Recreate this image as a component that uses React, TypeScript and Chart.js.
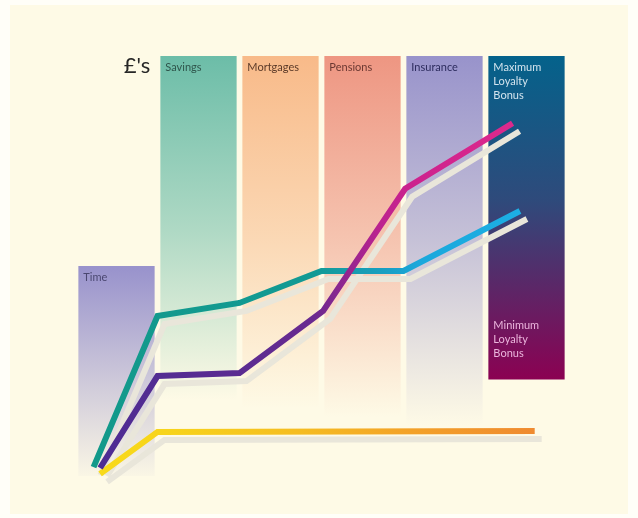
import React, { useEffect, useRef } from "react";
import { Chart, registerables } from "chart.js";

Chart.register(...registerables);

// ---- data ----
const categories = ["Time", "Savings", "Mortgages", "Pensions", "Insurance", "Loyalty Bonus"];
const columnTop = [50, 100, 100, 100, 100, 100];
const columnBottom = [0, 0, 0, 0, 0, 23];

const headerLines = [["Time"], ["Savings"], ["Mortgages"], ["Pensions"], ["Insurance"], ["Maximum", "Loyalty", "Bonus"]];
const footerLines = ["Minimum", "Loyalty", "Bonus"];
const yAxisLabel = "£'s";

// Maximum loyalty bonus path (purple -> magenta)
const maxBonusX = [-0.2, 0.5, 1.5, 2.52, 3.52, 4.83];
const maxBonusY = [1.9, 23.8, 24.5, 39.3, 68.4, 84.0];
// Minimum loyalty bonus path (teal -> cyan)
const minBonusX = [-0.28, 0.5, 1.5, 2.5, 3.5, 4.92];
const minBonusY = [2.1, 38.1, 41.2, 48.8, 48.8, 63.1];
// No bonus path (yellow -> orange)
const noBonusX = [-0.2, 0.5, 5.1];
const noBonusY = [0.5, 10.5, 10.7];

const toPoints = (xs: number[], ys: number[]) => xs.map((x, i) => ({ x, y: ys[i] }));

const columnTopColors = [
  [152, 146, 204],
  [108, 189, 168],
  [248, 186, 137],
  [238, 150, 130],
  [152, 147, 203],
];
const columnFadeTo = [0, 18, 16, 14, 12];
const headerColors = ["#4a4770", "#2f564c", "#5b3a28", "#6b3832", "#2d2c5e", "#d3e4ee"];

const panelPlugin = {
  id: "panel",
  beforeDraw(chart: any) {
    const { ctx, width, height } = chart;
    ctx.save();
    ctx.fillStyle = "#fffef8";
    ctx.fillRect(0, 0, width, height);
    ctx.fillStyle = "#fefae6";
    ctx.fillRect(10, 5, 618, 509);
    ctx.restore();
  },
};

const shadowPlugin = {
  id: "shadowShift",
  beforeDatasetDraw(chart: any, args: any) {
    if (chart.data.datasets[args.index].isShadow) {
      chart.ctx.save();
      chart.ctx.translate(7, 8);
    }
  },
  afterDatasetDraw(chart: any, args: any) {
    if (chart.data.datasets[args.index].isShadow) chart.ctx.restore();
  },
};

const labelPlugin = {
  id: "colLabels",
  afterDatasetsDraw(chart: any) {
    const ctx = chart.ctx;
    const meta = chart.getDatasetMeta(0);
    ctx.save();
    ctx.textBaseline = "middle";
    ctx.textAlign = "left";
    ctx.font = "11px Lato";
    meta.data.forEach((bar: any, i: number) => {
      const { x, y, width, base } = bar.getProps(["x", "y", "width", "base"], true);
      const left = x - width / 2 + 5;
      ctx.fillStyle = headerColors[i];
      headerLines[i].forEach((t, k) => ctx.fillText(t, left, y + 11 + k * 14));
      if (i === meta.data.length - 1) {
        ctx.fillStyle = "#ebb5dc";
        footerLines.forEach((t, k) => ctx.fillText(t, left, base - 54 + k * 14));
      }
    });
    const first = meta.data[1].getProps(["x", "y", "width"], true);
    ctx.font = "22px Lato";
    ctx.textAlign = "right";
    ctx.fillStyle = "#262626";
    ctx.fillText(yAxisLabel, first.x - first.width / 2 - 10, first.y + 10);
    ctx.restore();
  },
};

function lineGradient(chart: any, stops: [number, string][], fallback: string) {
  if (!chart.chartArea) return fallback;
  const xs = chart.scales.x;
  const x0 = xs.getPixelForValue(stops[0][0]);
  const x1 = xs.getPixelForValue(stops[stops.length - 1][0]);
  const g = chart.ctx.createLinearGradient(x0, 0, x1, 0);
  stops.forEach(([v, c]) => {
    g.addColorStop(Math.min(1, Math.max(0, (xs.getPixelForValue(v) - x0) / (x1 - x0))), c);
  });
  return g;
}

export default function App() {
  const ref = useRef<HTMLCanvasElement | null>(null);

  useEffect(() => {
    if (!ref.current) return;
    const shadowColor = "#e9e6da";
    const lineBase = {
      type: "line" as const,
      xAxisID: "x",
      yAxisID: "y",
      borderWidth: 6,
      pointRadius: 0,
      tension: 0,
      fill: false,
      borderCapStyle: "butt",
      borderJoinStyle: "miter",
      clip: false,
    };
    const chart = new Chart(ref.current, {
      type: "bar",
      data: {
        labels: categories,
        datasets: [
          {
            type: "bar",
            label: "Columns",
            xAxisID: "xc",
            yAxisID: "y",
            order: 10,
            grouped: false,
            data: categories.map((_, i) => [columnBottom[i], columnTop[i]]),
            barPercentage: 0.93,
            categoryPercentage: 1,
            borderWidth: 0,
            backgroundColor: (ctx: any) => {
              const chart = ctx.chart;
              if (!chart.chartArea) return "#ccc";
              const i = ctx.dataIndex;
              const y = chart.scales.y;
              const top = y.getPixelForValue(columnTop[i]);
              const bottom = y.getPixelForValue(columnBottom[i]);
              if (i === categories.length - 1) {
                const g = chart.ctx.createLinearGradient(0, top, 0, bottom);
                g.addColorStop(0, "#04628b");
                g.addColorStop(0.45, "#2f4a7b");
                g.addColorStop(1, "#8b0152");
                return g;
              }
              const [r, gg, b] = columnTopColors[i];
              const end = i === 0 ? bottom : y.getPixelForValue(columnFadeTo[i]);
              const g = chart.ctx.createLinearGradient(0, top, 0, end);
              g.addColorStop(0, `rgba(${r},${gg},${b},1)`);
              if (i > 0) g.addColorStop(0.5, `rgba(${r},${gg},${b},0.55)`);
              g.addColorStop(1, `rgba(${r},${gg},${b},${i === 0 ? 0.04 : 0})`);
              return g;
            },
          } as any,
          { ...lineBase, label: "shadow-min", isShadow: true, order: 6, borderColor: shadowColor, data: toPoints(minBonusX, minBonusY) } as any,
          { ...lineBase, label: "shadow-max", isShadow: true, order: 6, borderColor: shadowColor, data: toPoints(maxBonusX, maxBonusY) } as any,
          { ...lineBase, label: "shadow-none", isShadow: true, order: 6, borderColor: shadowColor, data: toPoints(noBonusX, noBonusY) } as any,
          {
            ...lineBase,
            label: "Minimum loyalty bonus",
            order: 3,
            data: toPoints(minBonusX, minBonusY),
            borderColor: (ctx: any) =>
              lineGradient(ctx.chart, [[-0.3, "#12998a"], [2.4, "#139a94"], [3.3, "#1a9fc4"], [3.7, "#1ba8dc"], [5, "#1cafe4"]], "#12998a"),
          } as any,
          {
            ...lineBase,
            label: "No bonus",
            order: 2,
            data: toPoints(noBonusX, noBonusY),
            borderColor: (ctx: any) =>
              lineGradient(ctx.chart, [[-0.2, "#f8da1a"], [0.6, "#f7d41b"], [2.2, "#f5bd21"], [3.6, "#f3a128"], [5.1, "#ef8a30"]], "#f6d51c"),
          } as any,
          {
            ...lineBase,
            label: "Maximum loyalty bonus",
            order: 1,
            data: toPoints(maxBonusX, maxBonusY),
            borderColor: (ctx: any) =>
              lineGradient(ctx.chart, [[-0.2, "#4d2c93"], [1.5, "#5b2c91"], [2.4, "#6a2a90"], [3.2, "#bb228f"], [3.6, "#cc228e"], [4.9, "#de2a8c"]], "#5b2c91"),
          } as any,
        ],
      },
      options: {
        responsive: false,
        devicePixelRatio: 1,
        animation: false,
        layout: { padding: { left: 75.5, right: 70.5, top: 56, bottom: 42 } },
        plugins: { legend: { display: false }, tooltip: { enabled: false } },
        scales: {
          xc: { type: "category", display: false, offset: true },
          x: { type: "linear", display: false, offset: false, grid: { offset: false }, min: -0.5, max: 5.5 },
          y: { type: "linear", display: false, min: 0, max: 100 },
        },
      } as any,
      plugins: [panelPlugin, shadowPlugin, labelPlugin],
    });
    return () => chart.destroy();
  }, []);

  return (
    <div style={{ position: "absolute", left: 0, top: 0 }}>
      <canvas ref={ref} width={638} height={518} style={{ display: "block" }} />
    </div>
  );
}
